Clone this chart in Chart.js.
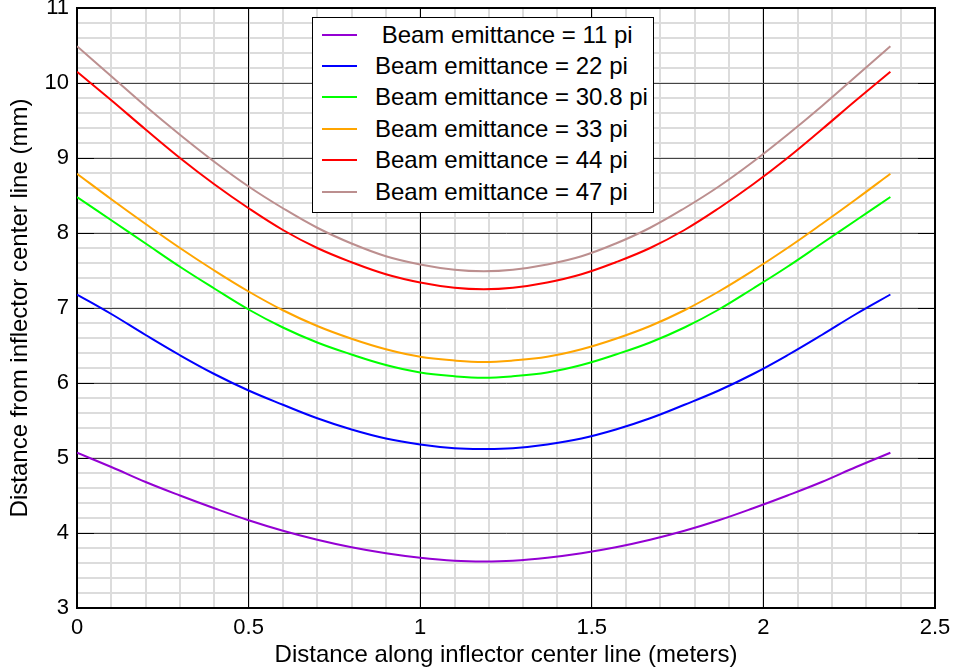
<!DOCTYPE html>
<html>
<head>
<meta charset="utf-8">
<script src="https://cdn.jsdelivr.net/npm/chart.js@4.4.1/dist/chart.umd.min.js"></script>
<style>
    body { margin: 0; background: #fff; }
    #wrap { position: relative; width: 956px; height: 672px; }
    #legend {
        position: absolute; left: 312px; top: 17px; width: 342px; height: 196px;
        box-sizing: border-box; border: 1px solid #000; background: #fff;
        padding-top: 1px; font-family: "Liberation Sans", Arial, sans-serif; font-size: 24px;
    }
    .row { display: flex; align-items: center; height: 31.4px; }
    .swatch { width: 35px; height: 2px; margin-left: 9px; margin-right: 18px; }
    .txt { white-space: pre; color: #000; }
</style>
</head>
<body>
<div id="wrap">
    <canvas id="beamChart" width="956" height="672"></canvas>
    <div id="legend"></div>
</div>
<script>
// distance along inflector center line (m)
const xs = [0, 0.1, 0.2, 0.3, 0.4, 0.5, 0.6, 0.7, 0.8, 0.9, 1.0, 1.1, 1.185,
    1.27, 1.37, 1.47, 1.57, 1.67, 1.77, 1.87, 1.97, 2.07, 2.17, 2.27, 2.37];

// distance from inflector center line (mm), one array per emittance
const em11 = [5.07, 4.88, 4.68, 4.50, 4.33, 4.17, 4.03, 3.91, 3.81, 3.73, 3.67, 3.63, 3.62,
    3.63, 3.67, 3.73, 3.81, 3.91, 4.03, 4.17, 4.33, 4.50, 4.68, 4.88, 5.07];
const em22 = [7.18, 6.92, 6.64, 6.37, 6.12, 5.90, 5.71, 5.53, 5.38, 5.26, 5.18, 5.13, 5.12,
    5.13, 5.18, 5.26, 5.38, 5.53, 5.71, 5.90, 6.12, 6.37, 6.64, 6.92, 7.18];
const em308 = [8.48, 8.17, 7.86, 7.55, 7.26, 6.98, 6.74, 6.54, 6.38, 6.24, 6.14, 6.09, 6.07,
    6.09, 6.14, 6.24, 6.38, 6.54, 6.74, 6.98, 7.26, 7.55, 7.86, 8.17, 8.48];
const em33 = [8.79, 8.45, 8.12, 7.80, 7.50, 7.22, 6.97, 6.76, 6.59, 6.45, 6.35, 6.30, 6.28,
    6.30, 6.35, 6.45, 6.59, 6.76, 6.97, 7.22, 7.50, 7.80, 8.12, 8.45, 8.79];
const em44 = [10.15, 9.77, 9.38, 9.00, 8.65, 8.33, 8.04, 7.80, 7.61, 7.45, 7.34, 7.27, 7.25,
    7.27, 7.34, 7.45, 7.61, 7.80, 8.04, 8.33, 8.65, 9.00, 9.38, 9.77, 10.15];
const em47 = [10.49, 10.09, 9.69, 9.31, 8.95, 8.62, 8.33, 8.07, 7.86, 7.69, 7.58, 7.51, 7.49,
    7.51, 7.58, 7.69, 7.86, 8.07, 8.33, 8.62, 8.95, 9.31, 9.69, 10.09, 10.49];

const seriesLabels = [' Beam emittance = 11 pi', 'Beam emittance = 22 pi', 'Beam emittance = 30.8 pi',
    'Beam emittance = 33 pi', 'Beam emittance = 44 pi', 'Beam emittance = 47 pi'];
const seriesValues = [em11, em22, em308, em33, em44, em47];
const seriesColors = ['#9400d3', '#0000ff', '#00ff00', '#ffa500', '#ff0000', '#bc8f8f'];

function renderBeamChart() {
    'use strict';
    const font = 'Liberation Sans';
    const ctx = document.getElementById('beamChart').getContext('2d');

    const datasets = seriesValues.map((ys, i) => ({
        label: seriesLabels[i],
        data: xs.map((x, j) => ({x: x, y: ys[j]})),
        borderColor: seriesColors[i],
        borderWidth: 2,
        pointRadius: 0,
        tension: 0.4,
        fill: false
    }));

    // squeeze helper axes down to nothing so the plot area stays put
    const noSize = (scale) => {
        if (scale.isHorizontal()) scale.height = 0; else scale.width = 0;
        scale.paddingTop = scale.paddingBottom = scale.paddingLeft = scale.paddingRight = 0;
    };
    // 1 not 1.0
    const plainLabel = (value) => String(value);

    new Chart(ctx, {
        type: 'line',
        data: { datasets: datasets },
        options: {
            responsive: false,
            animation: false,
            devicePixelRatio: 1,
            layout: { padding: { left: 0, top: 8, right: 21, bottom: 0 } },
            plugins: {
                legend: { display: false },
                tooltip: { enabled: false }
            },
            scales: {
                x: {
                    type: 'linear', position: 'bottom', min: 0, max: 2.5,
                    ticks: { stepSize: 0.5, color: '#000', padding: 7, callback: plainLabel,
                        font: { family: font, size: 22 } },
                    grid: { color: '#000', lineWidth: 1, drawTicks: false },
                    border: { color: '#000', width: 2 },
                    title: { display: true, text: 'Distance along inflector center line (meters)',
                        color: '#000', padding: { top: 0, bottom: 2 }, font: { family: font, size: 24 } },
                    afterFit: (scale) => { scale.height = 64; scale.paddingLeft = scale.paddingRight = 0; }
                },
                y: {
                    type: 'linear', position: 'left', min: 3, max: 11,
                    ticks: { stepSize: 1, color: '#000', padding: 25, callback: plainLabel,
                        font: { family: font, size: 22 } },
                    grid: { color: '#444', lineWidth: 1, tickColor: '#000', tickLength: -17 },
                    border: { color: '#000', width: 2 },
                    title: { display: true, text: 'Distance from inflector center line (mm)',
                        color: '#000', padding: { top: 6, bottom: 0 }, font: { family: font, size: 24 } },
                    afterFit: (scale) => { scale.width = 77; scale.paddingTop = scale.paddingBottom = 0; }
                },
                xMinor: {
                    type: 'linear', position: 'top', min: 0, max: 2.5,
                    ticks: { stepSize: 0.1, display: false },
                    grid: { color: '#dcdcdc', lineWidth: 2, drawTicks: false, z: -2 },
                    border: { color: '#000', width: 2 },
                    afterFit: noSize
                },
                yMinor: {
                    type: 'linear', position: 'right', min: 3, max: 11,
                    ticks: { stepSize: 0.2, display: false },
                    grid: { color: '#dcdcdc', lineWidth: 2, drawTicks: false, z: -2 },
                    border: { color: '#000', width: 2 },
                    afterFit: noSize
                },
                yTicksRight: {
                    type: 'linear', position: 'right', min: 3, max: 11,
                    ticks: { stepSize: 1, display: false },
                    grid: { drawOnChartArea: false, tickColor: '#000', tickLength: -17 },
                    border: { display: false },
                    afterFit: noSize
                }
            }
        }
    });

    // boxed legend sitting inside the plot
    const legend = document.getElementById('legend');
    seriesLabels.forEach((label, i) => {
        const row = document.createElement('div');
        row.className = 'row';
        row.innerHTML = `<span class="swatch" style="background:${seriesColors[i]}"></span><span class="txt">${label}</span>`;
        legend.appendChild(row);
    });
}

document.addEventListener('DOMContentLoaded', renderBeamChart);
</script>
</body>
</html>
